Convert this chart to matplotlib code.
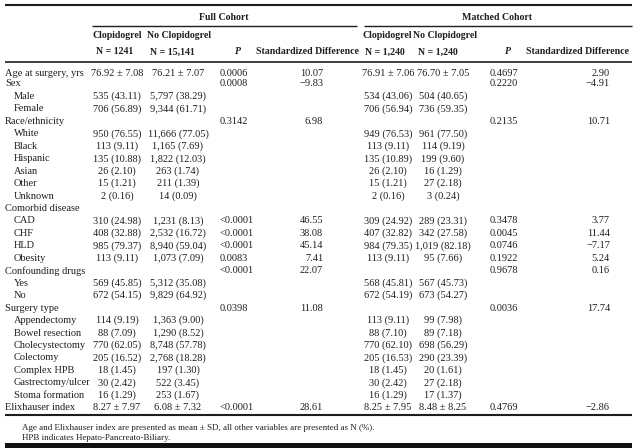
import matplotlib
matplotlib.use("Agg")
import matplotlib.pyplot as plt

# ---- table data ----
labels = ["Age at surgery, yrs", "Sex", "Male", "Female", "Race/ethnicity",
          "White", "Black", "Hispanic", "Asian", "Other", "Unknown",
          "Comorbid disease", "CAD", "CHF", "HLD", "Obesity",
          "Confounding drugs", "Yes", "No", "Surgery type", "Appendectomy",
          "Bowel resection", "Cholecystectomy", "Colectomy", "Complex HPB",
          "Gastrectomy/ulcer", "Stoma formation", "Elixhauser index"]
indent = [0, 0, 1, 1, 0, 1, 1, 1, 1, 1, 1, 0, 1, 1, 1, 1, 0, 1, 1, 0,
          1, 1, 1, 1, 1, 1, 1, 0]

full_clop = ["76.92 \u00b1 7.08", "", "535 (43.11)", "706 (56.89)", "",
             "950 (76.55)", "113 (9.11)", "135 (10.88)", "26 (2.10)", "15 (1.21)", "2 (0.16)",
             "", "310 (24.98)", "408 (32.88)", "985 (79.37)", "113 (9.11)",
             "", "569 (45.85)", "672 (54.15)", "",
             "114 (9.19)", "88 (7.09)", "770 (62.05)", "205 (16.52)", "18 (1.45)",
             "30 (2.42)", "16 (1.29)", "8.27 \u00b1 7.97"]
full_noclop = ["76.21 \u00b1 7.07", "", "5,797 (38.29)", "9,344 (61.71)", "",
               "11,666 (77.05)", "1,165 (7.69)", "1,822 (12.03)", "263 (1.74)", "211 (1.39)", "14 (0.09)",
               "", "1,231 (8.13)", "2,532 (16.72)", "8,940 (59.04)", "1,073 (7.09)",
               "", "5,312 (35.08)", "9,829 (64.92)", "",
               "1,363 (9.00)", "1,290 (8.52)", "8,748 (57.78)", "2,768 (18.28)", "197 (1.30)",
               "522 (3.45)", "253 (1.67)", "6.08 \u00b1 7.32"]
full_p = ["0.0006", "0.0008", "", "", "0.3142", "", "", "", "", "", "",
          "", "<0.0001", "<0.0001", "<0.0001", "0.0083", "<0.0001", "", "", "0.0398",
          "", "", "", "", "", "", "", "<0.0001"]
full_sd = ["10.07", "\u22129.83", "", "", "6.98", "", "", "", "", "", "",
           "", "46.55", "38.08", "45.14", "7.41", "22.07", "", "", "11.08",
           "", "", "", "", "", "", "", "28.61"]

match_clop = ["76.91 \u00b1 7.06", "", "534 (43.06)", "706 (56.94)", "",
              "949 (76.53)", "113 (9.11)", "135 (10.89)", "26 (2.10)", "15 (1.21)", "2 (0.16)",
              "", "309 (24.92)", "407 (32.82)", "984 (79.35)", "113 (9.11)",
              "", "568 (45.81)", "672 (54.19)", "",
              "113 (9.11)", "88 (7.10)", "770 (62.10)", "205 (16.53)", "18 (1.45)",
              "30 (2.42)", "16 (1.29)", "8.25 \u00b1 7.95"]
match_noclop = ["76.70 \u00b1 7.05", "", "504 (40.65)", "736 (59.35)", "",
                "961 (77.50)", "114 (9.19)", "199 (9.60)", "16 (1.29)", "27 (2.18)", "3 (0.24)",
                "", "289 (23.31)", "342 (27.58)", "1,019 (82.18)", "95 (7.66)",
                "", "567 (45.73)", "673 (54.27)", "",
                "99 (7.98)", "89 (7.18)", "698 (56.29)", "290 (23.39)", "20 (1.61)",
                "27 (2.18)", "17 (1.37)", "8.48 \u00b1 8.25"]
match_p = ["0.4697", "0.2220", "", "", "0.2135", "", "", "", "", "", "",
           "", "0.3478", "0.0045", "0.0746", "0.1922", "0.9678", "", "", "0.0036",
           "", "", "", "", "", "", "", "0.4769"]
match_sd = ["2.90", "\u22124.91", "", "", "10.71", "", "", "", "", "", "",
            "", "3.77", "11.44", "\u22127.17", "5.24", "0.16", "", "", "17.74",
            "", "", "", "", "", "", "", "\u22122.86"]

footnotes = ["Age and Elixhauser index are presented as mean \u00b1 SD, all other variables are presented as N (%).",
             "HPB indicates Hepato-Pancreato-Biliary."]

# ---- layout (pixel coords) ----
plt.rcParams["font.family"] = ["Liberation Serif", "DejaVu Serif"]
ink = "#1e1e1e"
fs = 7.5

fig = plt.figure(figsize=(6.4, 4.48), dpi=100)
ax = fig.add_axes([0, 0, 1, 1])
ax.set_xlim(0, 640)
ax.set_ylim(448, 0)
ax.axis("off")

def rule(x0, x1, y, lw=1.0):
    ax.plot([x0, x1], [y, y], color=ink, lw=lw, solid_capstyle="butt")

rule(5, 632, 5, lw=1.5)
rule(92, 357, 26)
rule(364, 632, 26)
rule(5, 632, 62, lw=1.2)
rule(5, 632, 415, lw=1.5)
ax.fill_between([5, 632], 443, 449, color="#111111", lw=0)

hb = dict(fontsize=7.1, fontweight="bold", color=ink, va="center")
ax.text(224, 17, "Full Cohort", ha="center", **hb)
ax.text(497, 17, "Matched Cohort", ha="center", **hb)
ax.text(117, 36, "Clopidogrel", ha="center", **hb)
ax.text(179, 36, "No Clopidogrel", ha="center", **hb)
ax.text(387, 36, "Clopidogrel", ha="center", **hb)
ax.text(445, 36, "No Clopidogrel", ha="center", **hb)
ax.text(115, 52, "N = 1241", ha="center", **hb)
ax.text(172, 52, "N = 15,141", ha="center", **hb)
ax.text(238, 52, "P", ha="center", style="italic", **hb)
ax.text(308, 52, "Standardized Difference", ha="center", **hb)
ax.text(385, 52, "N = 1,240", ha="center", **hb)
ax.text(438, 52, "N = 1,240", ha="center", **hb)
ax.text(508, 52, "P", ha="center", style="italic", **hb)
ax.text(577, 52, "Standardized Difference", ha="center", **hb)

row_y = [73] + [84 + 12.45 * i for i in range(len(labels) - 1)]
tb = dict(fontsize=fs, color=ink, va="center")
for i, y in enumerate(row_y):
    ax.text(5 + 9 * indent[i], y, labels[i], ha="left", **tb)
    ax.text(117, y, full_clop[i], ha="center", **tb)
    ax.text(178, y, full_noclop[i], ha="center", **tb)
    ax.text(220, y, full_p[i], ha="left", **tb)
    ax.text(323, y, full_sd[i], ha="right", **tb)
    ax.text(388, y, match_clop[i], ha="center", **tb)
    ax.text(443, y, match_noclop[i], ha="center", **tb)
    ax.text(490, y, match_p[i], ha="left", **tb)
    ax.text(610, y, match_sd[i], ha="right", **tb)

for k, line in enumerate(footnotes):
    ax.text(22, 428 + 9.5 * k, line, ha="left", va="center", fontsize=6.5, color=ink)

fig.savefig("out.png", dpi=100)
